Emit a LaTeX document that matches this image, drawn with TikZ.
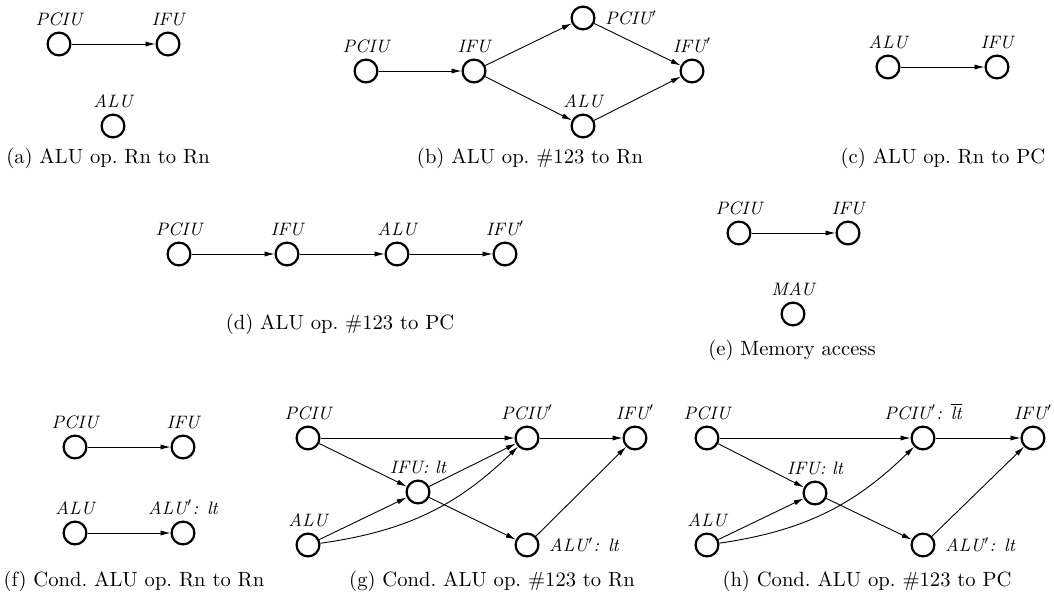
\documentclass[tikz,border=0pt]{standalone}
\usepackage{amsmath}
\usepackage{tikz}
\usetikzlibrary{arrows.meta}

\begin{document}
\begin{tikzpicture}[x=0.5pt,y=-0.5pt,
  unit/.style={circle,draw,line width=1.1pt,minimum size=11.4pt,inner sep=0pt},
  lab/.style={font=\fontsize{9}{11}\selectfont\itshape,inner sep=2.6pt},
  subcap/.style={font=\fontsize{10.3}{12}\selectfont,anchor=base},
  flow/.style={-{Latex[length=5pt,width=2.6pt]},line width=0.45pt}]
\useasboundingbox (0,0) rectangle (1054,599);
% (a)
\node[unit,label={[lab]above:PCIU}] (aP) at (59,44) {};
\node[unit,label={[lab]above:IFU}] (aI) at (168,44) {};
\node[unit,label={[lab]above:ALU}] (aA) at (113,126) {};
\draw[flow] (aP)--(aI);
\node[subcap] (acap) at (108,163) {(a) ALU op.\ Rn to Rn};
% (b)
\node[unit,label={[lab]above:PCIU}] (bP) at (366,71) {};
\node[unit,label={[lab]above:IFU}] (bI) at (474,71) {};
\node[unit,label={[lab,xshift=2pt]right:PCIU$'$}] (bP2) at (583,18) {};
\node[unit,label={[lab]above:ALU}] (bA) at (583,126) {};
\node[unit,label={[lab]above:IFU$'$}] (bI2) at (692,71) {};
\draw[flow] (bP)--(bI);
\draw[flow] (bI)--(bP2);
\draw[flow] (bI)--(bA);
\draw[flow] (bP2)--(bI2);
\draw[flow] (bA)--(bI2);
\node[subcap] (bcap) at (530,163) {(b) ALU op.\ \#123 to Rn};
% (c)
\node[unit,label={[lab]above:ALU}] (cA) at (888,67) {};
\node[unit,label={[lab]above:IFU}] (cI) at (997,67) {};
\draw[flow] (cA)--(cI);
\node[subcap] (ccap) at (943,163) {(c) ALU op.\ Rn to PC};
% (d)
\foreach \n/\x/\t in {1/179/PCIU, 2/287/IFU, 3/397/ALU, 4/505/{IFU$'$}}{
  \node[unit,label={[lab]above:\t}] (d\n) at (\x,254) {};
}
\foreach \a/\b in {1/2, 2/3, 3/4}{\draw[flow] (d\a)--(d\b);}
\node[subcap] (dcap) at (340,329) {(d) ALU op.\ \#123 to PC};
% (e)
\node[unit,label={[lab]above:PCIU}] (eP) at (739,233) {};
\node[unit,label={[lab]above:IFU}] (eI) at (848,233) {};
\node[unit,label={[lab]above:MAU}] (eM) at (793,314) {};
\draw[flow] (eP)--(eI);
\node[subcap] (ecap) at (792,355) {(e) Memory access};
% (f)
\node[unit,label={[lab]above:PCIU}] (fP) at (75,447) {};
\node[unit,label={[lab]above:IFU}] (fI) at (183,447) {};
\node[unit,label={[lab]above:ALU}] (fA) at (75,533) {};
\node[unit,label={[lab]above:ALU$'$: lt}] (fA2) at (183,533) {};
\draw[flow] (fP)--(fI);
\draw[flow] (fA)--(fA2);
\node[subcap] (fcap) at (134,586) {(f) Cond.\ ALU op.\ Rn to Rn};
% (g)
\node[unit,label={[lab]above:PCIU}] (gP) at (308,438) {};
\node[unit,label={[lab]above:IFU: lt}] (gI) at (418,492) {};
\node[unit,label={[lab]above:PCIU$'$}] (gP2) at (527,438) {};
\node[unit,label={[lab]above:IFU$'$}] (gI2) at (635,438) {};
\node[unit,label={[lab]above:ALU}] (gA) at (308,545) {};
\node[unit,label={[lab,xshift=2pt]right:ALU$'$: lt}] (gA2) at (527,545) {};
\draw[flow] (gP)--(gP2);
\draw[flow] (gP)--(gI);
\draw[flow] (gI)--(gP2);
\draw[flow] (gI)--(gA2);
\draw[flow] (gA)--(gI);
\draw[flow] (gA) to[bend right=18] (gP2);
\draw[flow] (gP2)--(gI2);
\draw[flow] (gA2)--(gI2);
\node[subcap] (gcap) at (492,586) {(g) Cond.\ ALU op.\ \#123 to Rn};
% (h)
\node[unit,label={[lab]above:PCIU}] (hP) at (707,438) {};
\node[unit,label={[lab]above:IFU: lt}] (hI) at (815,493) {};
\node[unit,label={[lab]above:{PCIU$'$: $\overline{\textit{lt}}$}}] (hP2) at (923,438) {};
\node[unit,label={[lab]above:IFU$'$}] (hI2) at (1033,438) {};
\node[unit,label={[lab]above:ALU}] (hA) at (707,545) {};
\node[unit,label={[lab,xshift=2pt]right:ALU$'$: lt}] (hA2) at (923,545) {};
\draw[flow] (hP)--(hP2);
\draw[flow] (hP)--(hI);
\draw[flow] (hI)--(hA2);
\draw[flow] (hA)--(hI);
\draw[flow] (hA) to[bend right=18] (hP2);
\draw[flow] (hP2)--(hI2);
\draw[flow] (hA2)--(hI2);
\node[subcap] (hcap) at (867,586) {(h) Cond.\ ALU op.\ \#123 to PC};
\end{tikzpicture}
\end{document}
